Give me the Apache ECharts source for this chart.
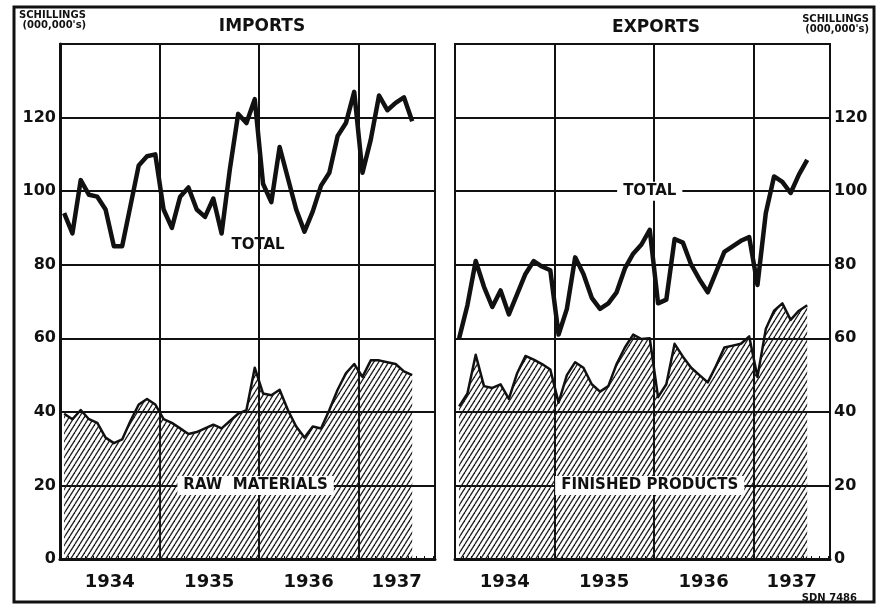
<!DOCTYPE html>
<html><head><meta charset="utf-8">
<script src="https://cdn.jsdelivr.net/npm/echarts@6/dist/echarts.min.js"></script>
<style>html,body{margin:0;padding:0;background:#fff}#c{width:881px;height:605px}</style>
</head><body><div id="c"></div>
<script>
// ---- data (monthly, Jan 1934 onwards; millions of schillings) ----
const yearLabels = ['1934', '1935', '1936', '1937'];
const yTicks = [0, 20, 40, 60, 80, 100, 120];
const importsTotal = [94, 88.5, 103, 99, 98.5, 95, 85, 85, 96, 107, 109.5, 110,
  95, 90, 98.5, 101, 95, 93, 98, 88.5, 106, 121, 118.5, 125,
  102, 97, 112, 103.5, 95, 89, 94.5, 101.5, 105, 115, 118.5, 127,
  105, 114, 126, 122, 124, 125.5, 119];
const importsRaw = [39.5, 38, 40.5, 38, 37, 33, 31.5, 32.5, 37.5, 42, 43.5, 42,
  38, 37, 35.5, 34, 34.5, 35.5, 36.5, 35.5, 37.5, 39.5, 40.5, 52,
  45, 44.5, 46, 40.5, 36, 33, 36, 35.5, 40.5, 46, 50.5, 53,
  49.5, 54, 54, 53.5, 53, 51, 50];
const exportsTotal = [60, 69, 81, 74, 68.5, 73, 66.5, 72, 77.5, 81, 79.5, 78.5,
  61, 68, 82, 77.5, 71, 68, 69.5, 72.5, 79, 83, 85.5, 89.5,
  69.5, 70.5, 87, 86, 80, 76, 72.5, 78, 83.5, 85, 86.5, 87.5,
  74.5, 94, 104, 102.5, 99.5, 104.5, 108.5];
const exportsFinished = [41.5, 45, 55.5, 47, 46.5, 47.5, 43.5, 50.5, 55.2, 54.2, 53, 51.5,
  42.5, 50, 53.5, 52, 47.5, 45.5, 47, 53, 57.5, 61, 59.8, 60,
  44, 47.5, 58.5, 55, 52, 50, 48, 52.5, 57.5, 58, 58.5, 60.5,
  49.5, 62.5, 67.5, 69.5, 65, 67.5, 69];

const X_MAX = 45.25;            // axis extent in months from Jan 1934
const INK = '#111';
const FONT = '"DejaVu Sans", "Liberation Sans", sans-serif';

const toPts = arr => arr.map((v, i) => [i + 0.5, v]);   // plotted at mid-month
const yearMid = yearLabels.map((y, i) => (12 * i + Math.min(12 * (i + 1), X_MAX)) / 2);

function hatch() {
  const w = 5, h = 8, c = document.createElement('canvas');
  c.width = w; c.height = h;
  const g = c.getContext('2d');
  g.strokeStyle = '#1a1a1a'; g.lineWidth = 1.3;
  for (const s of [-w, 0, w]) { g.beginPath(); g.moveTo(s, h); g.lineTo(s + w, 0); g.stroke(); }
  return c;
}
const hatchPattern = { image: hatch(), repeat: 'repeat' };

function xAxisFor(gridIndex) {
  return {
    type: 'value', gridIndex, min: 0, max: X_MAX, interval: 12,
    axisLine: { show: true, lineStyle: { color: INK, width: 3 } },
    axisTick: { show: true, inside: true, length: 4, lineStyle: { color: INK, width: 1.5 } },
    minorTick: { show: true, splitNumber: 12, length: 3, lineStyle: { color: INK, width: 1 } },
    splitLine: { show: true, lineStyle: { color: INK, width: 2 } },
    axisLabel: {
      customValues: yearMid, formatter: v => yearLabels[Math.floor(v / 12)],
      fontFamily: FONT, fontWeight: 'bold', fontSize: 18, color: INK, margin: 14
    }
  };
}
function yAxisFor(gridIndex, position) {
  return {
    type: 'value', gridIndex, position, min: 0, max: 140, interval: 20,
    axisLine: { show: true, lineStyle: { color: INK, width: position === 'left' ? 3 : 2 } },
    axisTick: { show: false },
    splitLine: { show: true, lineStyle: { color: INK, width: 2 } },
    axisLabel: { customValues: yTicks, fontFamily: FONT, fontWeight: 'bold', fontSize: 16, color: INK, margin: 4 }
  };
}
function totalSeries(data, idx) {
  return { type: 'line', xAxisIndex: idx, yAxisIndex: idx, data: toPts(data), symbol: 'none',
    lineStyle: { color: INK, width: 4.5, join: 'round' }, z: 6, silent: true };
}
function areaSeries(data, idx) {
  return { type: 'line', xAxisIndex: idx, yAxisIndex: idx, data: toPts(data), symbol: 'none',
    lineStyle: { color: INK, width: 2.5, join: 'round' }, areaStyle: { color: hatchPattern, opacity: 1, origin: 'start' },
    z: 5, silent: true };
}

const chart = echarts.init(document.getElementById('c'), null, { renderer: 'canvas' });
chart.setOption({
  backgroundColor: '#fff',
  animation: false,
  grid: [
    { left: 60, top: 44, width: 375, height: 515, show: true, borderColor: INK, borderWidth: 2 },
    { left: 455, top: 44, width: 375, height: 515, show: true, borderColor: INK, borderWidth: 2 }
  ],
  xAxis: [xAxisFor(0), xAxisFor(1)],
  yAxis: [yAxisFor(0, 'left'), yAxisFor(1, 'right')],
  series: [
    areaSeries(importsRaw, 0), totalSeries(importsTotal, 0),
    areaSeries(exportsFinished, 1), totalSeries(exportsTotal, 1)
  ]
});

// annotations anchored in data space
const notes = [
  { grid: 0, at: [23.9, 85.4], text: 'TOTAL', bg: null },
  { grid: 1, at: [23.5, 100], text: 'TOTAL', bg: '#fff' },
  { grid: 0, at: [23.6, 20], text: 'RAW  MATERIALS', bg: '#fff' },
  { grid: 1, at: [23.5, 20], text: 'FINISHED PRODUCTS', bg: '#fff' }
];
const graphics = [
  { type: 'rect', shape: { x: 14, y: 7, width: 860, height: 595 }, style: { fill: null, stroke: INK, lineWidth: 3 }, z: 100 },
  { type: 'text', x: 262, y: 27, style: { text: 'IMPORTS', font: 'bold 17px ' + FONT, fill: INK, align: 'center', verticalAlign: 'middle' }, z: 100 },
  { type: 'text', x: 656, y: 28, style: { text: 'EXPORTS', font: 'bold 17px ' + FONT, fill: INK, align: 'center', verticalAlign: 'middle' }, z: 100 },
  { type: 'text', x: 19, y: 20, style: { text: 'SCHILLINGS\n (000,000\'s)', font: 'bold 10px ' + FONT, lineHeight: 10, fill: INK, align: 'left', verticalAlign: 'middle' }, z: 100 },
  { type: 'text', x: 869, y: 24, style: { text: 'SCHILLINGS\n(000,000\'s)', font: 'bold 10px ' + FONT, lineHeight: 10, fill: INK, align: 'right', verticalAlign: 'middle' }, z: 100 },
  { type: 'text', x: 857, y: 598, style: { text: 'SDN 7486', font: 'bold 10px ' + FONT, fill: INK, align: 'right', verticalAlign: 'middle' }, z: 100 }
];
notes.forEach(n => {
  const p = chart.convertToPixel({ gridIndex: n.grid }, n.at);
  graphics.push({ type: 'text', x: p[0], y: p[1], z: 100,
    style: { text: n.text, font: 'bold 15px ' + FONT, fill: INK, align: 'center', verticalAlign: 'middle',
      backgroundColor: n.bg || 'transparent', padding: [2, 6] } });
});
chart.setOption({ graphic: graphics });
</script>
</body></html>
